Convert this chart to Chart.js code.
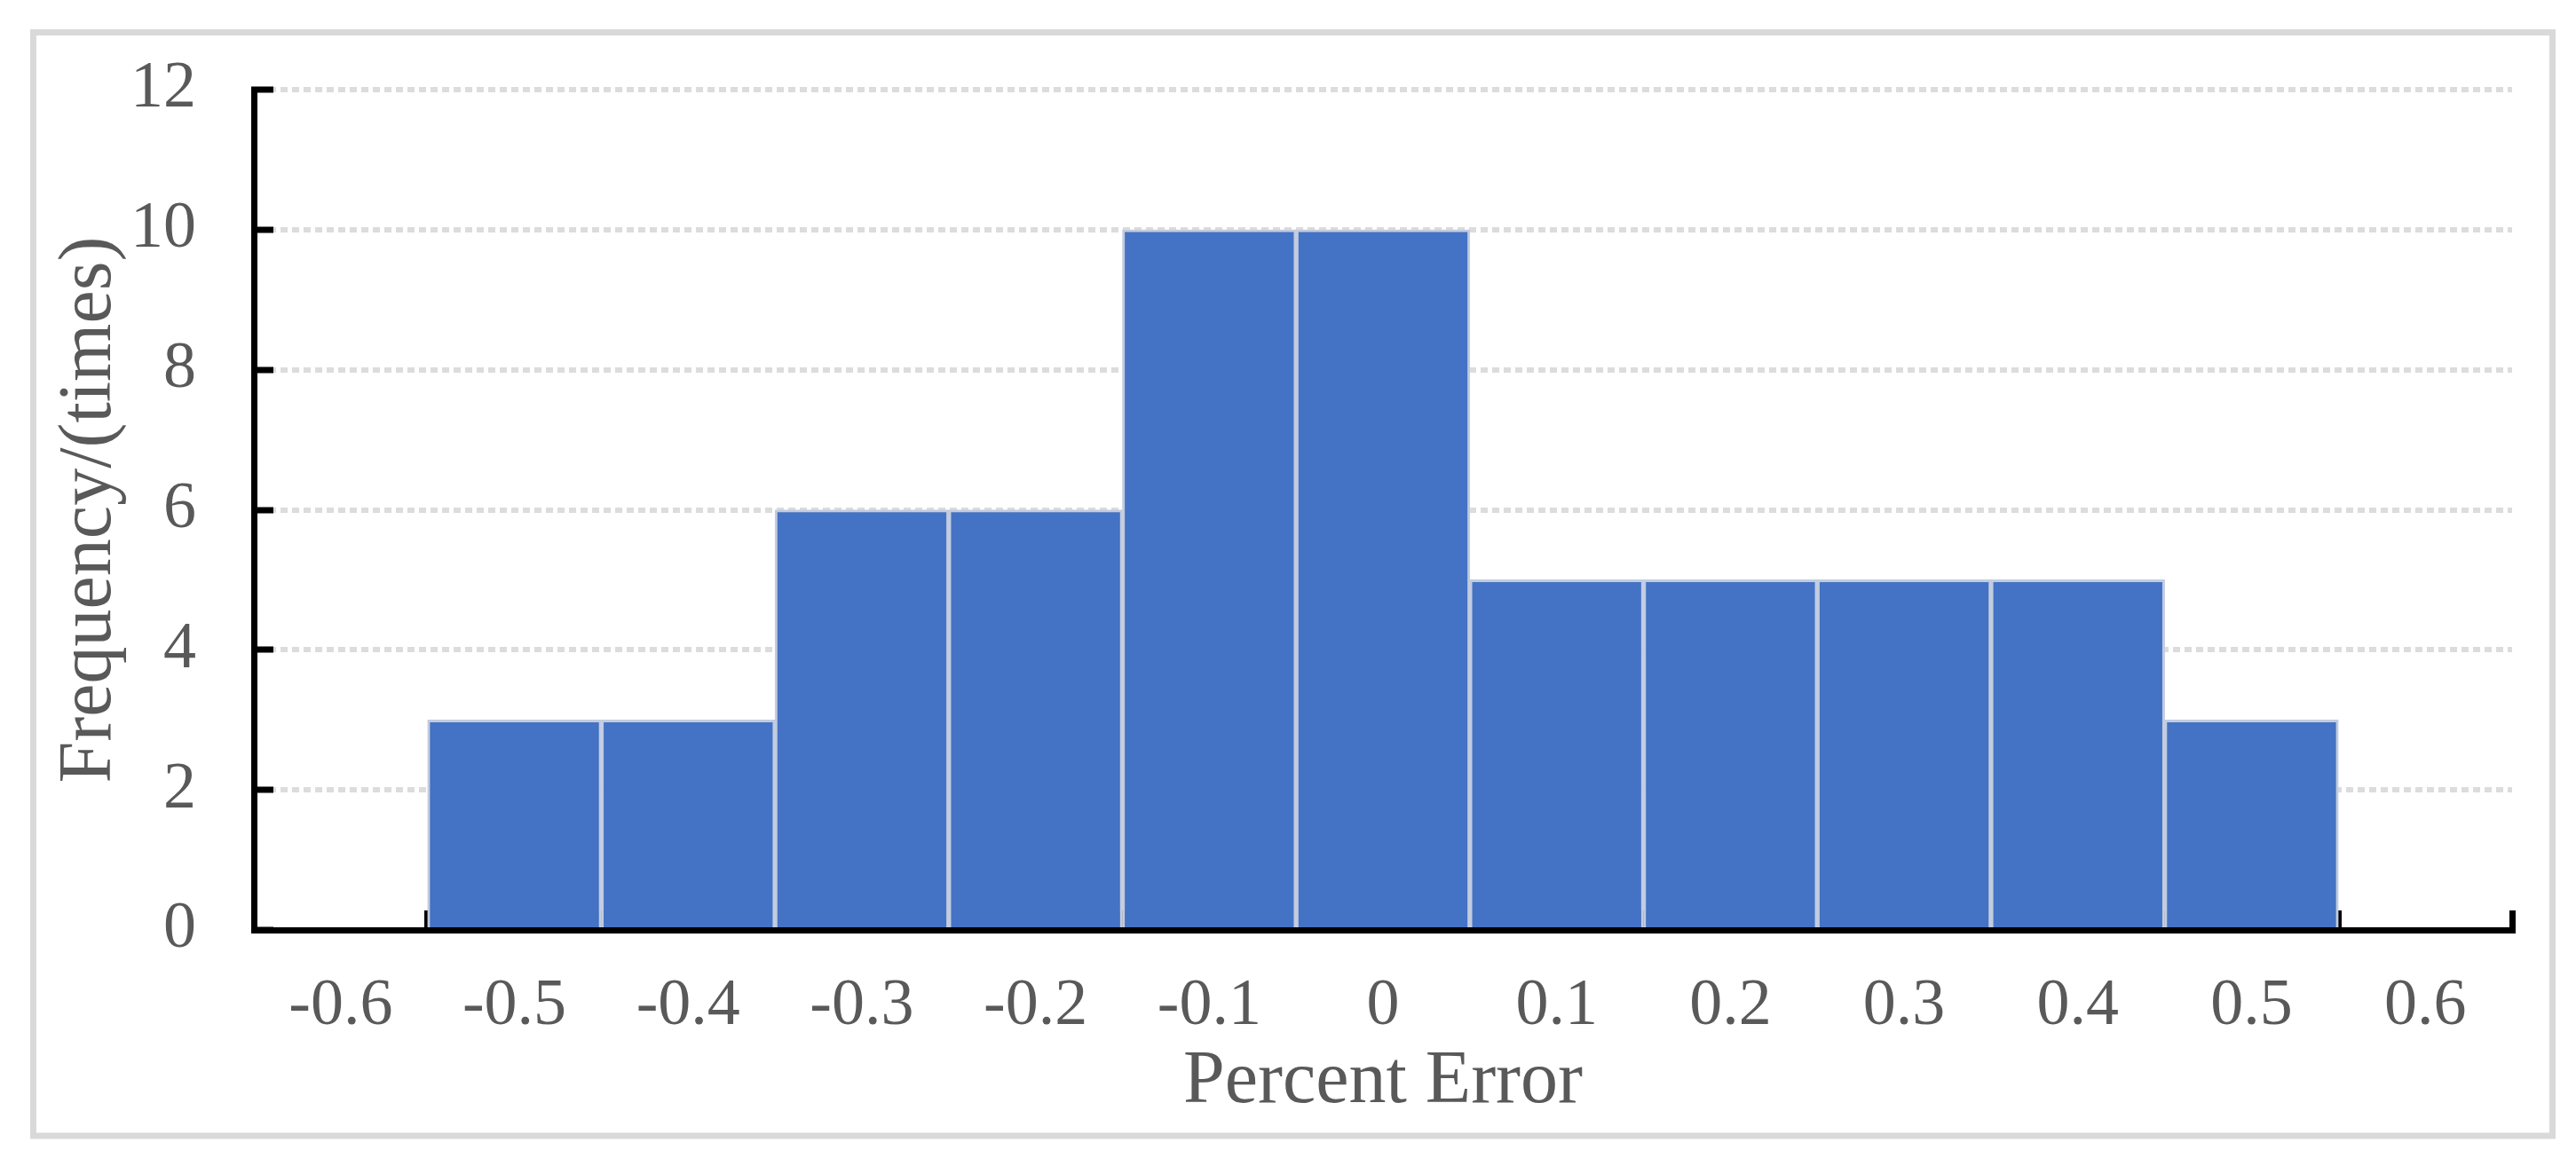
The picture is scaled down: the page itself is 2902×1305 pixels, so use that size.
<!DOCTYPE html>
<html>
<head>
<meta charset="utf-8">
<script src="https://cdn.jsdelivr.net/npm/chart.js@4"></script>
<style>
  html, body { margin: 0; padding: 0; background: #fff; }
  #wrap { width: 2902px; height: 1305px; position: relative; }
</style>
</head>
<body>
<div id="wrap"><canvas id="chart"></canvas></div>
<script>
const categories = ['-0.6', '-0.5', '-0.4', '-0.3', '-0.2', '-0.1', '0', '0.1', '0.2', '0.3', '0.4', '0.5', '0.6']
const frequency = [0, 3, 3, 6, 6, 10, 10, 5, 5, 5, 5, 3, 0]
const yTicks = [0, 2, 4, 6, 8, 10, 12]

const textColor = '#595959'
const fontFamily = '"Liberation Serif", "Times New Roman", serif'

// light grey frame round the whole picture
const framePlugin = {
    id: 'frame',
    beforeDraw(chart) {
        const ctx = chart.ctx
        ctx.save()
        ctx.fillStyle = '#ffffff'
        ctx.fillRect(0, 0, chart.width, chart.height)
        ctx.strokeStyle = '#d9d9d9'
        ctx.lineWidth = 7
        ctx.strokeRect(37.5, 36.5, chart.width - 37.5 - 26.5, chart.height - 36.5 - 25)
        ctx.restore()
    }
}

const config = {
    type: 'bar',
    data: {
        labels: categories,
        datasets: [{
            label: 'Frequency',
            data: frequency,
            backgroundColor: '#4472C4',
            borderColor: '#c2cce0',
            borderWidth: 3,
            barPercentage: 1,
            categoryPercentage: 1,
        }]
    },
    options: {
        responsive: true,
        maintainAspectRatio: false,
        animation: false,
        devicePixelRatio: 1,
        layout: {
            padding: { left: 40, right: 72, top: 101, bottom: 40 }
        },
        plugins: {
            legend: { display: false },
            tooltip: { enabled: false }
        },
        scales: {
            x: {
                z: 1,
                grid: {
                    offset: true,
                    drawOnChartArea: false,
                    drawTicks: true,
                    tickLength: -22,
                    tickColor: '#000000',
                    tickWidth: 7,
                },
                border: { display: true, color: '#000000', width: 7 },
                ticks: {
                    color: textColor,
                    padding: 64,
                    maxRotation: 0,
                    autoSkip: false,
                    font: { family: fontFamily, size: 74 }
                },
                title: {
                    display: true,
                    text: 'Percent Error',
                    color: textColor,
                    padding: { top: 0, bottom: 3 },
                    font: { family: fontFamily, size: 84, lineHeight: 1 }
                },
                afterFit(scale) { scale.height = 217 }
            },
            y: {
                min: 0,
                max: 12,
                afterBuildTicks(scale) {
                    scale.ticks = yTicks.map(v => ({ value: v }))
                },
                grid: {
                    color: '#dcdcdc',
                    lineWidth: 6,
                    drawTicks: true,
                    tickLength: -22,
                    tickColor: '#000000',
                    tickWidth: 7,
                    tickBorderDash: [1, 0],
                },
                border: { display: true, color: '#000000', width: 7, dash: [8, 5] },
                ticks: {
                    color: textColor,
                    padding: 87,
                    font: { family: fontFamily, size: 74 }
                },
                title: {
                    display: true,
                    text: 'Frequency/(times)',
                    color: textColor,
                    padding: { top: 20, bottom: 0 },
                    font: { family: fontFamily, size: 84, lineHeight: 1 }
                },
                afterFit(scale) {
                    scale.width = 246
                    // the big label padding should not push the plot area down
                    scale.paddingTop = 45
                    scale.paddingBottom = 45
                }
            }
        }
    },
    plugins: [framePlugin]
}

chart = new Chart(document.getElementById('chart'), config)
</script>
</body>
</html>
